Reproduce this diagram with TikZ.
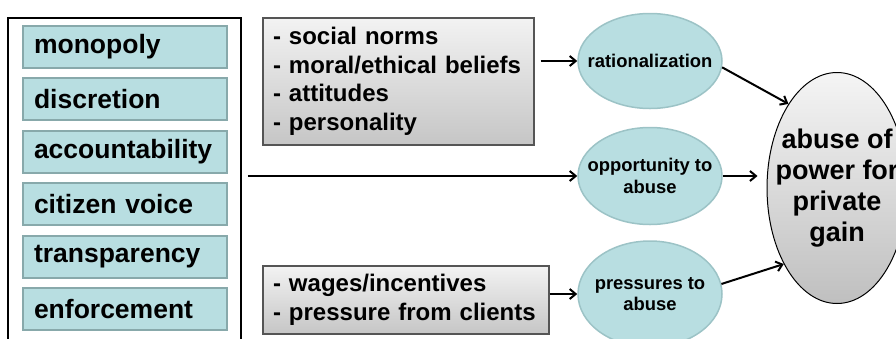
\documentclass[tikz,border=0pt]{standalone}
\usepackage{fontspec}
\setmainfont{Liberation Sans}
\usetikzlibrary{arrows.meta,positioning,shapes.geometric,calc}
\definecolor{tealfill}{HTML}{B8DEE1}
\definecolor{tealedge}{HTML}{88A9AB}
\definecolor{ovaledge}{HTML}{9CC3C6}
\definecolor{boxedge}{HTML}{555555}

\begin{document}
\begin{tikzpicture}[x=1pt,y=-1pt,
    factor/.style={draw=tealedge, line width=2pt, fill=tealfill,
                   minimum height=42pt, text width=182pt, inner xsep=11pt,
                   inner ysep=0pt, align=left,
                   font=\fontsize{26.5}{30}\selectfont\bfseries},
    cause/.style={draw=boxedge, line width=1.2pt, top color=gray!10,
                  bottom color=gray!45, inner xsep=10pt, inner ysep=0pt,
                  align=left, font=\fontsize{24}{28.5}\selectfont\bfseries},
    oval/.style={ellipse, draw=ovaledge, line width=1.5pt, fill=tealfill,
                 minimum width=144pt, inner sep=0pt},
    ovaltext/.style={font=\fontsize{18.4}{21.5}\selectfont\bfseries,
                     align=center},
    arr/.style={-{Straight Barb[length=6pt,width=10pt]}, line width=2pt}
  ]
    \useasboundingbox (0,0) rectangle (896,338);
    \clip (0,0) rectangle (896,338);

    % Left column
    \node[draw, line width=1.5pt, minimum width=233pt, minimum height=340pt,
          inner sep=0pt] (frame) at (124.5,188) {};
    \foreach \name [count=\i from 0] in {monopoly, discretion, accountability,
        citizen voice, transparency, enforcement}
      \node[factor] (f\i) at (125,{47+52.4*\i}) {\name};

    % Influences
    \node[cause, minimum width=271pt, minimum height=127pt, text width=251pt]
      (norms) at (398.5,81.5)
      {- social norms\\- moral/ethical beliefs\\- attitudes\\- personality};
    \node[cause, minimum width=286pt, minimum height=68pt, text width=266pt]
      (wages) at (406,300)
      {- wages/incentives\\- pressure from clients};

    % Ovals
    \node[oval, minimum height=95pt,
          label={[ovaltext]center:rationalization}] (rat) at (650,61) {};
    \node[oval, minimum height=97pt,
          label={[ovaltext]center:opportunity to\\abuse}] (opp) at (650,176) {};
    \node[oval, minimum height=106pt,
          label={[ovaltext]center:pressures to\\abuse}] (pres) at (650,294) {};
    \node[ellipse, draw, line width=1pt, top color=gray!8, bottom color=gray!50,
          minimum width=140pt, minimum height=231pt, inner sep=0pt,
          label={[font=\fontsize{27}{31}\selectfont\bfseries, align=center]
                 center:abuse of\\power for\\private\\gain}] (big) at (837,188) {};

    \draw[arr] ([xshift=6pt]norms.east |- rat) -- (rat);
    \draw[arr] ([xshift=6pt]frame.east |- opp) -- (opp);
    \draw[arr] (wages.east |- pres) -- (pres);
    \draw[arr] (rat.-5) -- (big.120);
    \draw[arr, shorten >=9pt] (opp) -- (opp -| big.west);
    \draw[arr] (pres.8) -- (big.235);
  \end{tikzpicture}
\end{document}
